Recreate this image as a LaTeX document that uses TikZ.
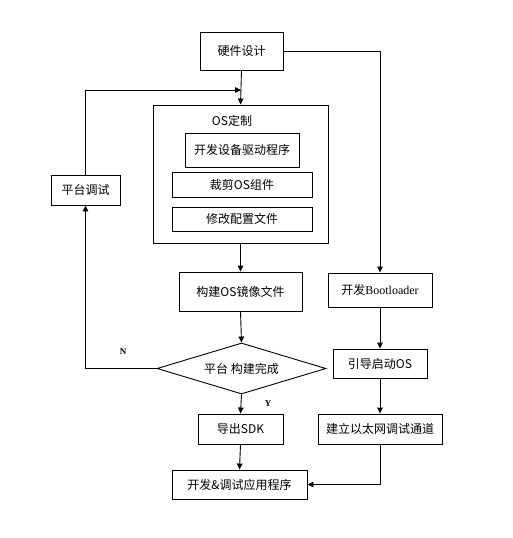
\documentclass[tikz,border=0pt]{standalone}
\usepackage{fontspec}
\setmainfont{Liberation Serif}
\newfontfamily\cjk{Noto Sans CJK SC}
\usetikzlibrary{arrows.meta,shapes.geometric}
\begin{document}
\begin{tikzpicture}[x=1pt,y=-1pt,
  every path/.style={line width=0.9pt},
  box/.style={draw,rectangle,inner sep=0pt,font=\cjk\fontsize{12}{13}\selectfont},
  arr/.style={-{Triangle[length=6pt,width=5.5pt]}},
  lbl/.style={font=\bfseries\fontsize{9}{10}\selectfont}]
\useasboundingbox (0,0) rectangle (512,538);
\node[box,minimum width=83pt,minimum height=38pt] (hw) at (241.5,51) {硬件设计};
\node[box,minimum width=175pt,minimum height=138pt] (os) at (240.5,174) {};
\node[font=\cjk\fontsize{12}{13}\selectfont] (oslbl) at (232,121) {OS定制};
\node[box,minimum width=114pt,minimum height=34pt] (drv) at (242,150) {开发设备驱动程序};
\node[box,minimum width=140pt,minimum height=25pt] (cut) at (242,184.5) {裁剪OS组件};
\node[box,minimum width=140pt,minimum height=24pt] (cfg) at (242,219) {修改配置文件};
\node[box,minimum width=69pt,minimum height=30pt] (dbg) at (85.5,190) {平台调试};
\node[box,minimum width=123pt,minimum height=39pt] (img) at (240.5,291.5) {构建OS镜像文件};
\node[box,minimum width=104pt,minimum height=34pt] (boot) at (380,290) {开发\rmfamily Bootloader};
\node[draw,diamond,aspect=3.3,inner sep=0pt,minimum width=169pt,minimum height=51pt,font=\cjk\fontsize{12}{13}\selectfont] (dec) at (241.5,368.5) {平台 构建完成};
\node[box,minimum width=94pt,minimum height=29pt] (bos) at (380,363.5) {引导启动OS};
\node[box,minimum width=85pt,minimum height=30pt] (sdk) at (240.5,429) {导出SDK};
\node[box,minimum width=124pt,minimum height=30pt] (eth) at (380,429) {建立以太网调试通道};
\node[box,minimum width=135pt,minimum height=29pt] (app) at (239.5,484.5) {开发\&调试应用程序};
\node[lbl] (n) at (123,352) {N};
\node[lbl] (y) at (268,404) {Y};
\coordinate (j) at (241,90);
\draw[arr] (hw.south) -- (os.north);
\draw[arr] (dbg.north) |- (j);
\draw[arr] (hw.east) -| (boot.north);
\draw[arr] (os.south) -- (img.north);
\draw[arr] (img.south) -- (dec.north);
\draw[arr] (dec.west) -| (dbg.south);
\draw[arr] (dec.south) -- (sdk.north);
\draw[arr] (sdk.south) -- (app.north);
\draw[arr] (boot.south) -- (bos.north);
\draw[arr] (bos.south) -- (eth.north);
\draw[arr] (eth.south) |- (app.east);
\end{tikzpicture}
\end{document}
